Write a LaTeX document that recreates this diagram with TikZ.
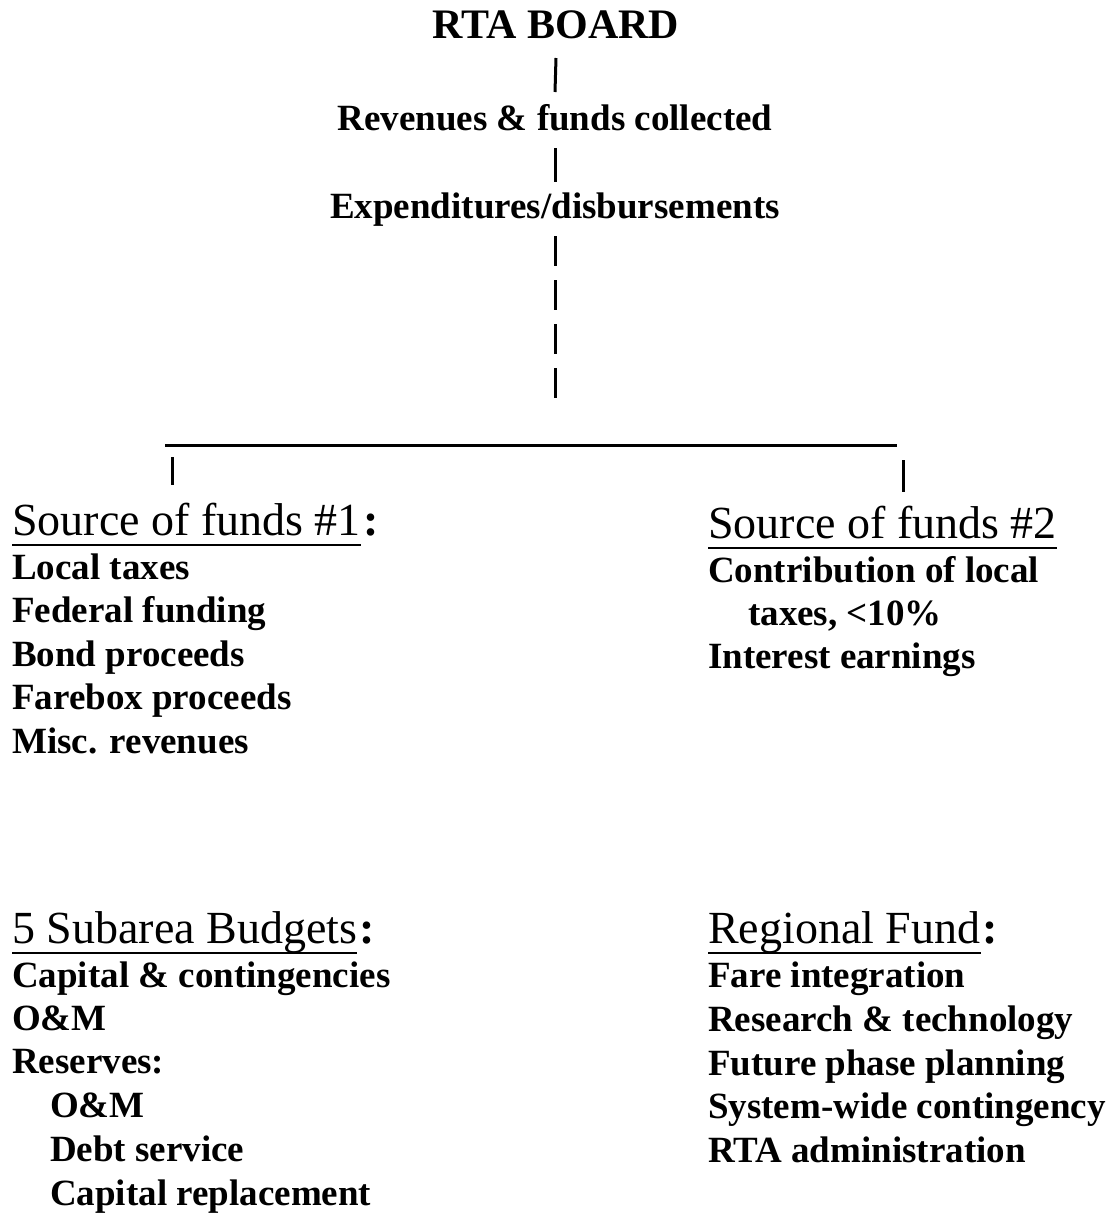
\documentclass[tikz,border=0pt]{standalone}
\usepackage{fontspec}
\setmainfont{Liberation Serif}
\usetikzlibrary{calc}
\begin{document}
\begin{tikzpicture}[x=1pt,y=-1pt,
  titletext/.style={font=\fontsize{42}{50}\selectfont\bfseries, anchor=base, inner sep=0pt},
  stagetext/.style={font=\fontsize{37}{44}\selectfont\bfseries, anchor=base, inner sep=0pt},
  headtext/.style={font=\fontsize{46}{54}\selectfont, anchor=base west, inner sep=0pt},
  colontext/.style={font=\fontsize{46}{54}\selectfont\bfseries, anchor=base west, inner sep=0pt},
  itemtext/.style={font=\fontsize{37}{44}\selectfont\bfseries, anchor=base west, inner sep=0pt},
  bar/.style={line width=3pt},
  uline/.style={line width=2.8pt}]
\useasboundingbox[fill=white] (0,0) rectangle (1113,1219);

% top chain
\node[titletext] (rta) at (556,38) {RTA BOARD};
\node[stagetext] (rev) at (555,130) {Revenues \& funds collected};
\node[stagetext] (exp) at (555,218) {Expenditures/disbursements};
\coordinate (stemend) at (555,400);
\draw[bar] ($(rta.base)+(0,20)$) -- ($(rev.base)+(0,-38)$);
\draw[bar] ($(rev.base)+(0,18)$) -- ($(exp.base)+(0,-36)$);
\draw[bar, dash pattern=on 30pt off 14pt] ($(exp.base)+(0,18)$) -- (stemend);

% horizontal bar and ticks
\coordinate (hl) at (165,445);
\coordinate (hr) at (897,445);
\draw[bar] (hl) -- (hr);
\coordinate (t1top) at (172,457);
\coordinate (t1bot) at (172,485);
\coordinate (t2top) at (903,460);
\coordinate (t2bot) at (903,492);
\draw[bar] (t1top) -- (t1bot);
\draw[bar] (t2top) -- (t2bot);

% Source of funds #1
\node[headtext] (h1) at (12,535) {Source of funds \#1};
\node[colontext] (h1c) at ($(h1.base east)+(2,0)$) {:};
\draw[uline] ($(h1.base west)+(0,10)$) -- ($(h1.base east)+(0,10)$);
\node[itemtext] (a1) at (12,579) {Local taxes};
\node[itemtext] (a2) at (12,622) {Federal funding};
\node[itemtext] (a3) at (12,666) {Bond proceeds};
\node[itemtext] (a4) at (12,709) {Farebox proceeds};
\node[itemtext] (a5) at (12,753) {Misc. revenues};

% Source of funds #2
\node[headtext] (h2) at (708,538) {Source of funds \#2};
\draw[uline] ($(h2.base west)+(0,10)$) -- ($(h2.base east)+(0,10)$);
\node[itemtext] (b1) at (708,582) {Contribution of local};
\node[itemtext] (b2) at (748,625) {taxes, <10\%};
\node[itemtext] (b3) at (708,668) {Interest earnings};

% 5 Subarea Budgets
\node[headtext] (h3) at (12,943) {5 Subarea Budgets};
\node[colontext] (h3c) at ($(h3.base east)+(2,0)$) {:};
\draw[uline] ($(h3.base west)+(0,10)$) -- ($(h3.base east)+(0,10)$);
\node[itemtext] (c1) at (12,987) {Capital \& contingencies};
\node[itemtext] (c2) at (12,1030) {O\&M};
\node[itemtext] (c3) at (12,1073) {Reserves:};
\node[itemtext] (c4) at (50,1117) {O\&M};
\node[itemtext] (c5) at (50,1161) {Debt service};
\node[itemtext] (c6) at (50,1205) {Capital replacement};

% Regional Fund
\node[headtext] (h4) at (708,943) {Regional Fund};
\node[colontext] (h4c) at ($(h4.base east)+(2,0)$) {:};
\draw[uline] ($(h4.base west)+(0,10)$) -- ($(h4.base east)+(0,10)$);
\node[itemtext] (d1) at (708,987) {Fare integration};
\node[itemtext] (d2) at (708,1031) {Research \& technology};
\node[itemtext] (d3) at (708,1075) {Future phase planning};
\node[itemtext] (d4) at (708,1118) {System-wide contingency};
\node[itemtext] (d5) at (708,1162) {RTA administration};
\end{tikzpicture}
\end{document}
